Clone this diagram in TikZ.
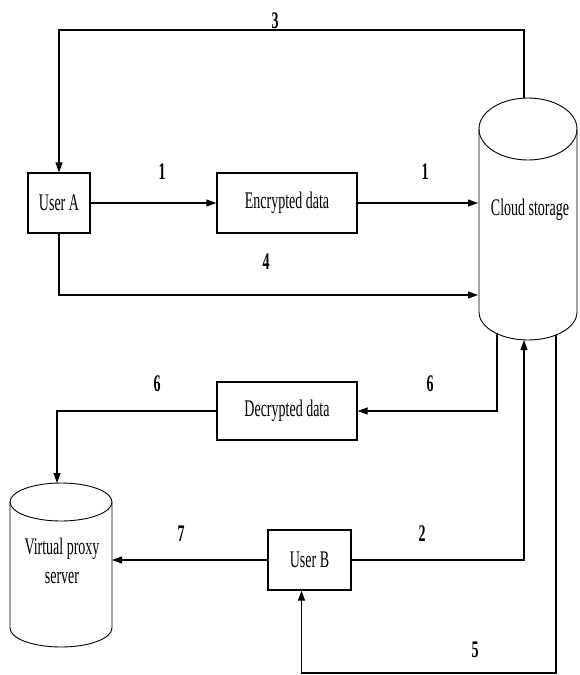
\documentclass[tikz,border=0pt]{standalone}
\usepackage{fontspec}
\setmainfont{Liberation Serif}
\usepackage{graphicx}
\usetikzlibrary{arrows.meta}
\newcommand{\tall}[1]{\scalebox{1}[1.7]{#1}}
\tikzset{
  box/.style={draw, line width=1.3pt, inner sep=0pt, font=\fontsize{14}{17}\selectfont},
  num/.style={font=\fontsize{14}{17}\selectfont},
  arr/.style={-{Triangle[length=10pt,width=7pt]}, line width=1.1pt},
  cyl/.style={line width=0.9pt},
}
\begin{document}
\begin{tikzpicture}[x=1pt,y=-1pt]
\useasboundingbox (0,0) rectangle (579,675);

\node[box, minimum width=62pt, minimum height=60pt] (ua) at (59,203) {\tall{User A}};
\node[box, minimum width=140pt, minimum height=60pt] (enc) at (287,203) {\tall{Encrypted data}};
\node[box, minimum width=140pt, minimum height=58pt] (dec) at (287,411) {\tall{Decrypted data}};
\node[box, minimum width=83pt, minimum height=60pt] (ub) at (309.5,560) {\tall{User B}};

\draw[cyl] (479,129) -- (479,312) arc[start angle=180, end angle=0, x radius=49, y radius=28] -- (577,129);
\draw[cyl] (528,129) ellipse [x radius=49, y radius=31];
\node[num] (cloud) at (530,210) {\tall{Cloud storage}};

\draw[cyl] (10,502) -- (10,628) arc[start angle=180, end angle=0, x radius=51, y radius=19] -- (112,502);
\draw[cyl] (61,502) ellipse [x radius=51, y radius=19];
\node[num] (proxy) at (62,563) {\tall{\begin{tabular}{@{}c@{}}Virtual proxy\\server\end{tabular}}};

\coordinate (cs-top) at (524,98);
\coordinate (cs-in1) at (478,203);
\coordinate (cs-in4) at (478,295);
\coordinate (cs-b6) at (497,333);
\coordinate (cs-b2) at (524,340);
\coordinate (cs-b5) at (556,335);
\coordinate (vp-top) at (57,483);
\coordinate (vp-right) at (112,560);

\draw[arr] (cs-top) -- ++(0,-68) -| (ua.north);
\draw[arr] (ua.east) -- (enc.west);
\draw[arr] (enc.east) -- (cs-in1);
\draw[arr] (ua.south) |- (cs-in4);
\draw[arr] (cs-b6) |- (dec.east);
\draw[arr] (dec.west) -| (vp-top);
\draw[arr] (ub.west) -- (vp-right);
\draw[arr] (ub.east) -| (cs-b2);
\draw[arr] (cs-b5) -- (556,673) -| ([xshift=-8pt]ub.south);

\node[num] (n3) at (275,21) {\tall{\bfseries 3}};
\node[num] (n1a) at (162,172) {\tall{\bfseries 1}};
\node[num] (n1b) at (425,172) {\tall{\bfseries 1}};
\node[num] (n4) at (266,262) {\tall{\bfseries 4}};
\node[num] (n6a) at (157,384) {\tall{\bfseries 6}};
\node[num] (n6b) at (430,384) {\tall{\bfseries 6}};
\node[num] (n7) at (181,534) {\tall{\bfseries 7}};
\node[num] (n2) at (422,534) {\tall{\bfseries 2}};
\node[num] (n5) at (475,650) {\tall{\bfseries 5}};
\end{tikzpicture}
\end{document}
